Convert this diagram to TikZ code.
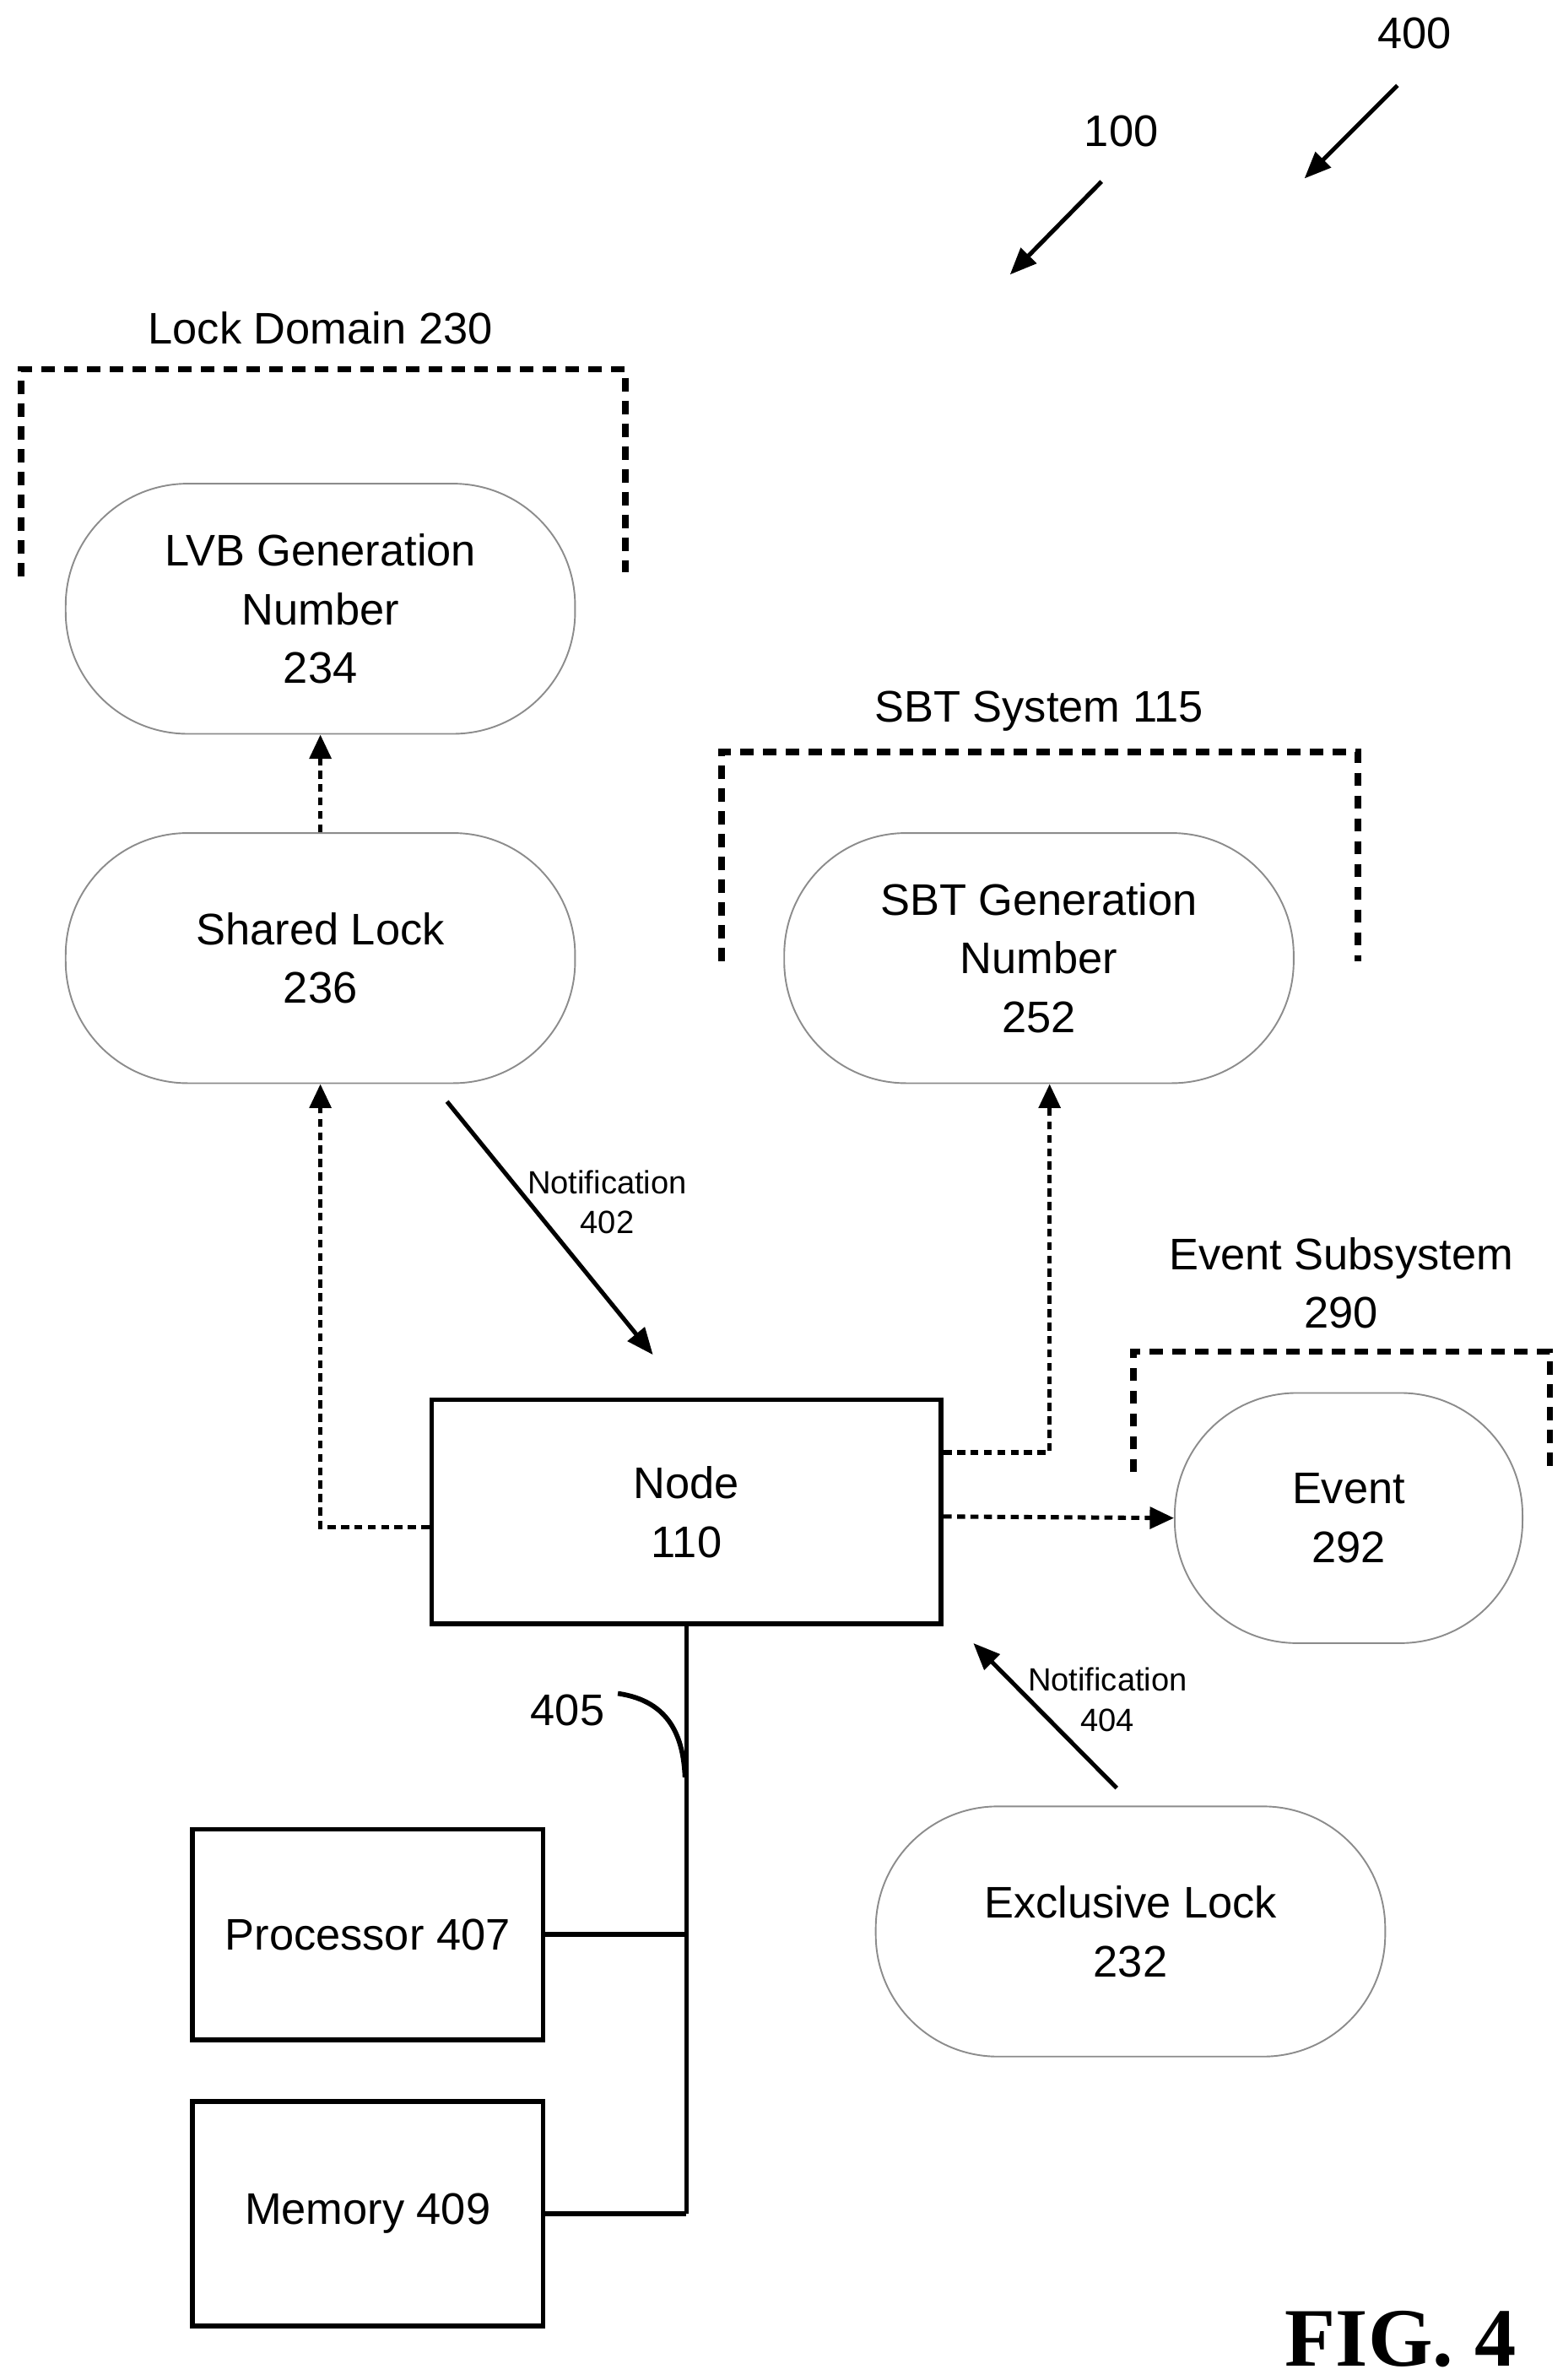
\documentclass[tikz,border=0pt]{standalone}
\usepackage{fontspec}
\setmainfont{Liberation Sans}
\usetikzlibrary{arrows.meta}
\usetikzlibrary{positioning}

\tikzset{
  pill/.style={draw=black!45, line width=0.6pt, rounded corners=1.6cm, minimum width=6.68cm, minimum height=3.28cm, align=center, font=\fontsize{16.5}{22}\selectfont},
  box/.style={draw=black, line width=1.8pt, align=center, font=\fontsize{16.5}{22}\selectfont},
  bracket/.style={line width=2.4pt, dash pattern=on 5pt off 3.5pt},
  dotlink/.style={-{Triangle[length=9pt,width=8pt]}, line width=1.6pt, dash pattern=on 3pt off 2pt},
  notelink/.style={-{Triangle[length=10pt,width=8pt]}, line width=1.6pt},
  lbl/.style={font=\fontsize{16.5}{22}\selectfont, align=center},
  small/.style={font=\fontsize{12}{15}\selectfont, align=center}
}

\begin{document}
\begin{tikzpicture}[x=0.02cm, y=-0.02cm]
	\useasboundingbox (0,0) rectangle (1024,1560);
	% brackets
	\draw[bracket] (14,378) -- (14,242) -- (410,242) -- (410,375);
	\node[lbl] (lockdom) at (210,215) {Lock Domain 230};
	\draw[bracket] (473,630) -- (473,493) -- (890,493) -- (890,630);
	\node[lbl] (sbtsys) at (681,466) {SBT System 115};
	\draw[bracket] (743,965) -- (743,886) -- (1016,886) -- (1016,965);
	\node[lbl] (evsub) at (879,841) {Event Subsystem\\290};
	% nodes
	\node[pill] (lvb) at (210,399) {LVB Generation\\Number\\234};
	\node[pill] (shl) at (210,628) {Shared Lock\\236};
	\node[pill] (sbt) at (681,628) {SBT Generation\\Number\\252};
	\node[pill, minimum width=4.56cm] (ev) at (884,995) {Event\\292};
	\node[pill] (exl) at (741,1266) {Exclusive Lock\\232};
	\node[box, minimum width=6.68cm, minimum height=2.94cm] (nd) at (450,991) {Node\\110};
	\node[box, minimum width=4.6cm, minimum height=2.76cm] (proc) at (241,1268) {Processor 407};
	\node[box, minimum width=4.6cm, minimum height=2.94cm] (mem) at (241,1451) {Memory 409};
	% links
	\draw[dotlink] ([yshift=-0.2cm]nd.west) -| (shl.south);
	\draw[dotlink] (shl.north) -- (lvb.south);
	\draw[dotlink] ([yshift=0.78cm]nd.east) -| ([xshift=0.14cm]sbt.south);
	\draw[dotlink] ([yshift=-0.06cm]nd.east) -- (ev.west);
	% bus
	\draw[line width=1.8pt] (nd.south) -- (nd.south |- mem.east);
	\draw[line width=1.8pt] (proc.east) -- (proc.east -| nd.south);
	\draw[line width=1.8pt] (mem.east) -- (mem.east -| nd.south);
	\draw[line width=1.8pt] (405,1110) .. controls (440,1115) and (448,1140) .. (449,1165);
	\node[lbl] (bus) at (372,1121) {405};
	% notifications
	\coordinate (n1a) at (293,722);
	\coordinate (n1b) at (428,888);
	\draw[notelink] (n1a) -- (n1b);
	\node[small] (note1) at (398,788) {Notification\\402};
	\coordinate (n2a) at (732,1172);
	\coordinate (n2b) at (638,1077);
	\draw[notelink] (n2a) -- (n2b);
	\node[small] (note2) at (726,1114) {Notification\\404};
	% reference arrows
	\coordinate (r1a) at (722,119);
	\coordinate (r1b) at (662,180);
	\draw[notelink] (r1a) -- (r1b);
	\node[lbl] (ref1) at (735,86) {100};
	\coordinate (r2a) at (916,56);
	\coordinate (r2b) at (855,117);
	\draw[notelink] (r2a) -- (r2b);
	\node[lbl] (ref2) at (927,22) {400};
	\node[font=\fontsize{31}{36}\selectfont\bfseries\fontspec{Liberation Serif}] (fig) at (918,1533) {FIG. 4};
\end{tikzpicture}
\end{document}
